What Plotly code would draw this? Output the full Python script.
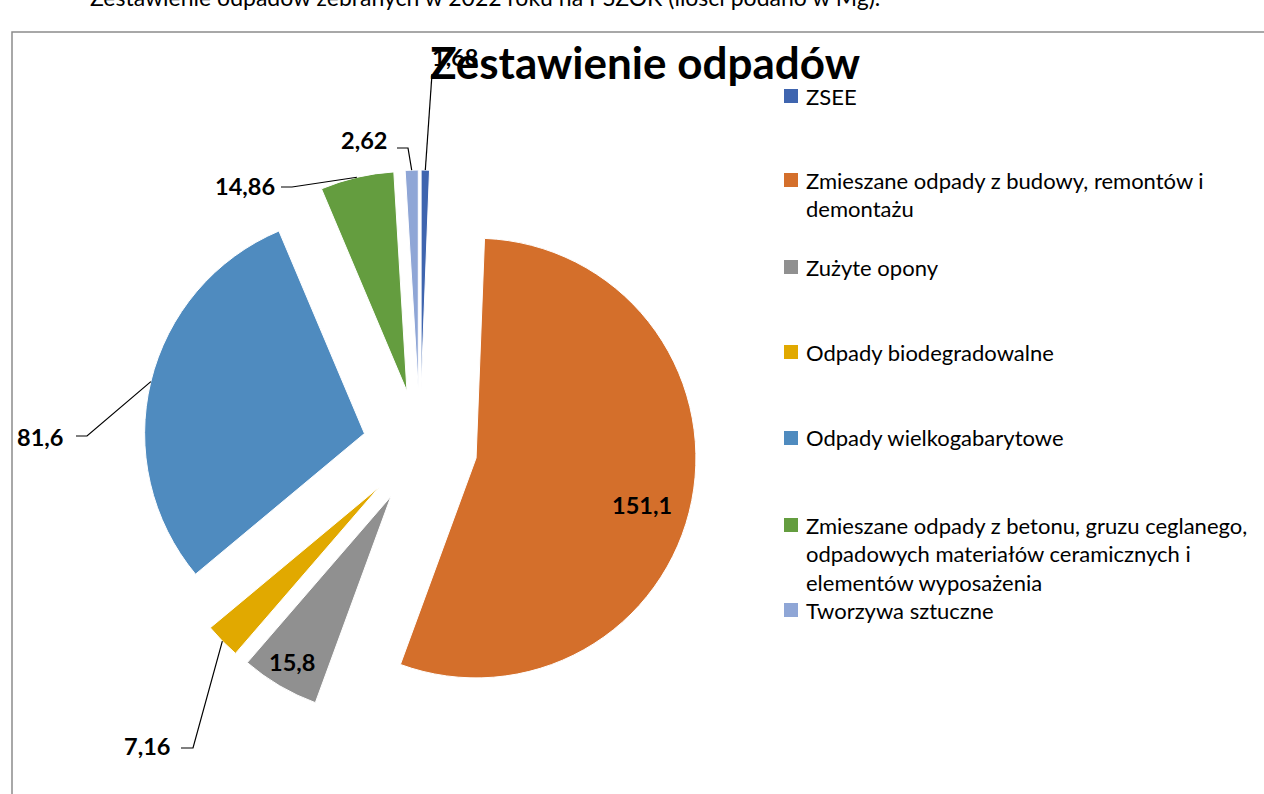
import math
import plotly.graph_objects as go

# ---------------- data ----------------
categories = [
    "ZSEE",
    "Zmieszane odpady z budowy, remontów i demontażu",
    "Zużyte opony",
    "Odpady biodegradowalne",
    "Odpady wielkogabarytowe",
    "Zmieszane odpady z betonu, gruzu ceglanego, odpadowych materiałów ceramicznych i elementów wyposażenia",
    "Tworzywa sztuczne",
]
legend_lines = [
    ["ZSEE"],
    ["Zmieszane odpady z budowy, remontów i", "demontażu"],
    ["Zużyte opony"],
    ["Odpady biodegradowalne"],
    ["Odpady wielkogabarytowe"],
    ["Zmieszane odpady z betonu, gruzu ceglanego,", "odpadowych materiałów ceramicznych i", "elementów wyposażenia"],
    ["Tworzywa sztuczne"],
]
values = [1.68, 151.1, 15.8, 7.16, 81.6, 14.86, 2.62]
colors = ["#3F65AF", "#D46F2B", "#909090", "#E1A900", "#4F8BBF", "#649D3F", "#8FA6D6"]
label_texts = [("%g" % v).replace(".", ",") for v in values]

title_text = "Zestawienie odpadów"
page_text = "Zestawienie odpadów zebranych w 2022 roku na PSZOK (ilości podano w Mg)."

# ---------------- layout constants ----------------
W, H = 1264, 794
FONT = "Lato"
PULL = 0.26
CX, CY = 420, 447      # pie centre (px)
BOX = 554              # pie domain box size (px)
R = BOX / (2 * (1 + PULL))
LBL_SIZE = 23.5


def px(x):
    return x / W


def py(y):
    return 1 - y / H


fig = go.Figure(go.Pie(
    labels=categories,
    values=values,
    textinfo="none",
    marker=dict(colors=colors, line=dict(color="white", width=1)),
    pull=[PULL] * len(values),
    sort=False,
    direction="clockwise",
    rotation=0,
    showlegend=False,
    hoverinfo="label+value",
    domain=dict(x=[px(CX - BOX / 2), px(CX + BOX / 2)],
                y=[py(CY + BOX / 2), py(CY - BOX / 2)]),
))

# leader-line endpoints computed from the data (slice mid angle on outer arc)
total = sum(values)
cum = 0
mid_pts = []
for v in values:
    theta = (cum + v / 2) / total * 2 * math.pi
    cum += v
    rr = R * (1 + PULL)
    mid_pts.append((CX + rr * math.sin(theta), CY - rr * math.cos(theta)))

# outside labels: text centre and elbow of leader line (px)
outside_cfg = {
    4: dict(t=(40, 437), e=[(76, 436), (87, 436)]),
    3: dict(t=(147, 746), e=[(181, 748), (193, 748)]),
    5: dict(t=(245, 186), e=[(281, 187), (292, 187)]),
    6: dict(t=(364, 140), e=[(397, 148), (408, 148)]),
    0: dict(t=(455, 57), e=[(432, 74)]),
}
# inside labels: text centre (px)
inside_cfg = {1: (642, 505), 2: (292, 662)}

shapes = []
annotations = []

# page text (cut off at top)
annotations.append(dict(text=page_text, x=px(88), y=py(-3), xref="paper", yref="paper",
                        xanchor="left", yanchor="middle", showarrow=False,
                        font=dict(family=FONT, size=23, color="black")))

# chart border
shapes.append(dict(type="rect", xref="paper", yref="paper",
                   x0=px(12), y0=py(H + 20), x1=px(W + 20), y1=py(32),
                   line=dict(color="#8C8C8C", width=1.5), fillcolor="rgba(0,0,0,0)"))

for i, cfg in outside_cfg.items():
    pts = cfg["e"] + [mid_pts[i]]
    path = "M " + " L ".join("%f %f" % (px(x), py(y)) for x, y in pts)
    shapes.append(dict(type="path", xref="paper", yref="paper", path=path,
                       line=dict(color="black", width=1.2)))
    annotations.append(dict(text=label_texts[i], x=px(cfg["t"][0]), y=py(cfg["t"][1]),
                            xref="paper", yref="paper", xanchor="center", yanchor="middle",
                            showarrow=False,
                            font=dict(family=FONT, size=LBL_SIZE, color="black", weight="bold")))

for i, (tx, ty) in inside_cfg.items():
    annotations.append(dict(text=label_texts[i], x=px(tx), y=py(ty),
                            xref="paper", yref="paper", xanchor="center", yanchor="middle",
                            showarrow=False,
                            font=dict(family=FONT, size=LBL_SIZE, color="black", weight="bold")))

# custom legend
first_centres = [96, 180, 267, 352, 438, 525, 610]
LINE_H = 28.5
for i, lines in enumerate(legend_lines):
    yc = first_centres[i]
    shapes.append(dict(type="rect", xref="paper", yref="paper",
                       x0=px(784), x1=px(798), y0=py(yc + 7), y1=py(yc - 7),
                       fillcolor=colors[i], line=dict(width=0)))
    for k, ln in enumerate(lines):
        annotations.append(dict(text=ln, x=px(804), y=py(yc + k * LINE_H),
                                xref="paper", yref="paper", xanchor="left", yanchor="middle",
                                showarrow=False,
                                font=dict(family=FONT, size=22, color="black")))

# title (drawn last, on top of the hidden label)
annotations.append(dict(text=title_text, x=px(645), y=py(62), xref="paper", yref="paper",
                        xanchor="center", yanchor="middle", showarrow=False,
                        font=dict(family=FONT, size=44, color="black", weight="bold")))

fig.update_layout(
    width=W, height=H,
    margin=dict(l=0, r=0, t=0, b=0),
    paper_bgcolor="white",
    plot_bgcolor="white",
    shapes=shapes,
    annotations=annotations,
    font=dict(family=FONT),
)

fig.write_html("out.html", config={"displayModeBar": False},
               post_script="document.body.style.margin='0';")
